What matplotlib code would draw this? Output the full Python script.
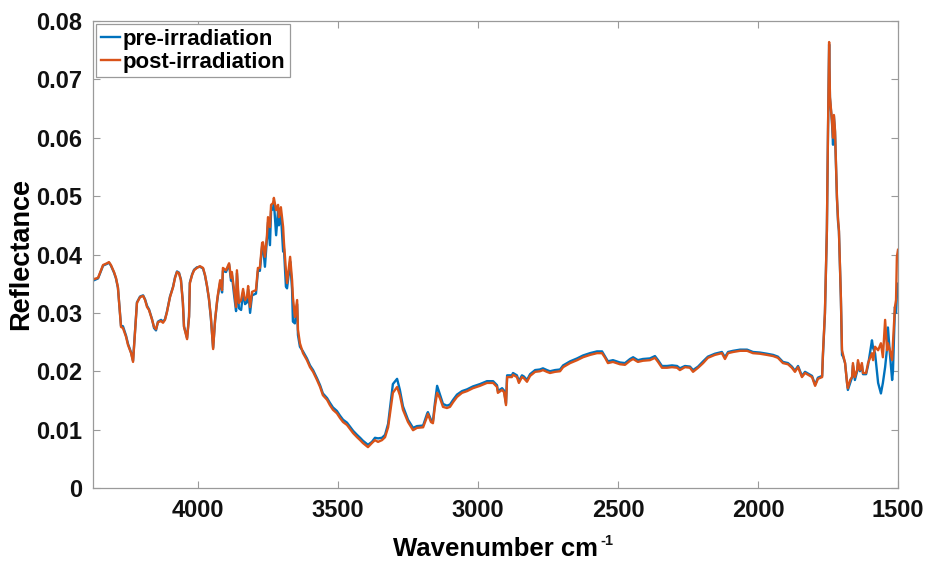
import numpy as np
import matplotlib
matplotlib.use("Agg")
import matplotlib.pyplot as plt

plt.rcParams['font.family'] = ['Liberation Sans', 'DejaVu Sans']
plt.rcParams['font.weight'] = 'bold'

# ---- data (wavenumber in cm^-1, reflectance) ----
wn_a = [4371, 4357, 4343, 4339, 4325, 4318, 4311, 4300, 4293, 4286, 4275, 4268, 4257, 4250, 4239,
        4232, 4225, 4218, 4207, 4196, 4189, 4182, 4175, 4164, 4157, 4150, 4143, 4132, 4125, 4118,
        4111, 4100, 4089, 4082, 4075, 4068, 4061, 4054, 4050, 4039, 4032, 4029, 4021, 4014, 4004]
post_a = [.0358, .0360, .0377, .0382, .0385, .0387, .0382, .0370, .0360, .0344, .0276, .0274, .0259, .0245, .0231,
          .0216, .0266, .0317, .0327, .0329, .0322, .0310, .0305, .0288, .0276, .0272, .0284, .0286, .0283, .0288,
          .0301, .0327, .0344, .0360, .0370, .0368, .0356, .0317, .0276, .0255, .0293, .0351, .0365, .0373, .0377]
pre_a = [.0356, .0359, .0376, .0381, .0384, .0386, .0381, .0369, .0359, .0343, .0278, .0277, .0261, .0247, .0232,
         .0218, .0268, .0318, .0328, .0330, .0323, .0312, .0306, .0289, .0274, .0270, .0285, .0288, .0285, .0289,
         .0302, .0328, .0345, .0361, .0371, .0369, .0357, .0318, .0277, .0257, .0294, .0352, .0366, .0374, .0378]

wn_b = [3993, 3982, 3975, 3968, 3961, 3954, 3946, 3939, 3932, 3929, 3921, 3914, 3911, 3900, 3889,
        3882, 3879, 3871, 3864, 3861, 3854, 3846, 3839, 3832, 3825, 3821, 3814, 3807, 3793, 3786,
        3779, 3771, 3768, 3761, 3754, 3750, 3743, 3739, 3732, 3729, 3721, 3714, 3711, 3704, 3696,
        3693, 3686, 3682, 3675, 3671, 3664, 3661, 3654, 3646, 3643, 3636]
post_b = [.0380, .0377, .0365, .0347, .0325, .0293, .0238, .0288, .0320, .0331, .0356, .0339, .0377, .0373, .0385,
          .0360, .0370, .0339, .0310, .0373, .0317, .0322, .0341, .0322, .0327, .0346, .0310, .0336, .0339, .0377,
          .0377, .0420, .0421, .0396, .0430, .0464, .0447, .0485, .0488, .0497, .0476, .0485, .0464, .0481, .0447,
          .0420, .0373, .0351, .0379, .0396, .0356, .0327, .0293, .0322, .0271, .0248]
pre_b = [.0379, .0376, .0364, .0346, .0324, .0291, .0240, .0287, .0318, .0329, .0352, .0335, .0372, .0370, .0383,
         .0355, .0365, .0330, .0303, .0368, .0308, .0305, .0335, .0315, .0318, .0340, .0300, .0330, .0333, .0372,
         .0372, .0414, .0416, .0379, .0425, .0455, .0416, .0475, .0478, .0490, .0433, .0476, .0450, .0470, .0405,
         .0410, .0345, .0342, .0370, .0388, .0340, .0285, .0282, .0315, .0262, .0242]

wn_c = [3625, 3611, 3600, 3589, 3575, 3564, 3554, 3539, 3529, 3518, 3504, 3493, 3482, 3468, 3457,
        3446, 3432, 3421, 3411, 3393, 3379, 3368, 3357, 3343, 3332, 3321, 3314, 3304, 3289, 3279,
        3268, 3250, 3232, 3218, 3196, 3182, 3179, 3168, 3161, 3154, 3146, 3136, 3125, 3111, 3100,
        3089, 3075, 3057, 3039, 3018, 2993, 2968, 2946, 2932, 2929, 2914, 2907, 2900, 2896, 2879,
        2875, 2861, 2854, 2843, 2836, 2825, 2814, 2796, 2779, 2768, 2754, 2743, 2725, 2707, 2696,
        2671, 2646, 2625, 2600, 2575, 2557]
post_c = [.0231, .0219, .0207, .0199, .0185, .0173, .0159, .0151, .0142, .0134, .0128, .0120, .0113, .0108, .0101,
          .0094, .0087, .0082, .0077, .0070, .0077, .0082, .0079, .0082, .0087, .0104, .0128, .0163, .0173, .0159,
          .0134, .0113, .0099, .0103, .0104, .0122, .0127, .0113, .0111, .0139, .0163, .0154, .0139, .0137, .0139,
          .0147, .0156, .0163, .0166, .0171, .0175, .0180, .0180, .0173, .0163, .0168, .0164, .0142, .0190, .0190,
          .0194, .0190, .0180, .0190, .0188, .0182, .0192, .0199, .0200, .0202, .0199, .0197, .0199, .0200, .0207,
          .0214, .0219, .0224, .0228, .0231, .0231]
pre_c = [.0234, .0222, .0210, .0202, .0188, .0176, .0162, .0154, .0146, .0138, .0132, .0124, .0117, .0112, .0105,
         .0098, .0091, .0086, .0081, .0074, .0079, .0086, .0085, .0086, .0091, .0110, .0138, .0178, .0187, .0168,
         .0140, .0117, .0103, .0106, .0107, .0127, .0130, .0117, .0114, .0145, .0175, .0160, .0144, .0141, .0143,
         .0151, .0160, .0166, .0169, .0174, .0178, .0183, .0183, .0176, .0166, .0171, .0167, .0145, .0193, .0193,
         .0197, .0193, .0183, .0193, .0191, .0185, .0195, .0202, .0203, .0205, .0202, .0200, .0202, .0203, .0210,
         .0217, .0222, .0227, .0231, .0234, .0234]

wn_d = [2546, 2536, 2518, 2493, 2475, 2457, 2446, 2429, 2411, 2386, 2368, 2357, 2343, 2325, 2307,
        2289, 2279, 2261, 2243, 2232, 2214, 2196, 2179, 2154, 2129, 2118, 2107, 2089, 2064, 2039,
        2018, 1993, 1968, 1946, 1929, 1911, 1893, 1879, 1868, 1857, 1843, 1832, 1821, 1807, 1796,
        1786, 1771]
post_d = [.0223, .0214, .0216, .0212, .0211, .0218, .0221, .0216, .0218, .0219, .0223, .0216, .0206, .0206, .0207,
          .0206, .0202, .0207, .0206, .0199, .0206, .0214, .0223, .0228, .0231, .0221, .0231, .0233, .0235, .0235,
          .0231, .0230, .0228, .0226, .0223, .0214, .0212, .0206, .0199, .0207, .0190, .0197, .0194, .0190, .0175,
          .0187, .0190]
pre_d = [.0225, .0217, .0219, .0215, .0214, .0221, .0224, .0219, .0221, .0222, .0226, .0219, .0209, .0209, .0210,
         .0209, .0205, .0209, .0208, .0202, .0208, .0217, .0225, .0230, .0233, .0224, .0233, .0235, .0237, .0237,
         .0233, .0232, .0230, .0228, .0225, .0216, .0214, .0208, .0201, .0209, .0192, .0199, .0196, .0192, .0177,
         .0189, .0192]

wn_e = [1768, 1761, 1754, 1750, 1746, 1743, 1736, 1732, 1729, 1725, 1718, 1714, 1711, 1704, 1700,
        1696, 1689, 1682, 1679, 1671, 1664, 1661, 1654, 1646, 1643, 1636, 1629, 1625, 1614, 1607,
        1593, 1589, 1582, 1571, 1561, 1554, 1546, 1539, 1536, 1529, 1521, 1518, 1511, 1507, 1504, 1500]
post_e = [.0231, .0300, .0442, .0613, .0764, .0670, .0630, .0600, .0639, .0613, .0498, .0459, .0442, .0327, .0236,
          .0228, .0214, .0180, .0171, .0185, .0190, .0214, .0190, .0202, .0219, .0202, .0214, .0197, .0197, .0214,
          .0231, .0219, .0242, .0236, .0248, .0224, .0288, .0236, .0248, .0236, .0219, .0248, .0310, .0322, .0396, .0408]
pre_e = [.0228, .0298, .0440, .0610, .0760, .0668, .0628, .0588, .0637, .0610, .0495, .0455, .0440, .0325, .0228,
         .0225, .0214, .0180, .0168, .0180, .0190, .0210, .0185, .0200, .0215, .0200, .0210, .0195, .0195, .0210,
         .0253, .0240, .0231, .0180, .0162, .0180, .0207, .0240, .0275, .0230, .0185, .0200, .0310, .0300, .0330, .0350]

wavenumber = np.concatenate([wn_a, wn_b, wn_c, wn_d, wn_e])
pre = np.concatenate([pre_a, pre_b, pre_c, pre_d, pre_e])
post = np.concatenate([post_a, post_b, post_c, post_d, post_e])

x_ticks = [4000, 3500, 3000, 2500, 2000, 1500]
y_ticks = [0, 0.01, 0.02, 0.03, 0.04, 0.05, 0.06, 0.07, 0.08]
y_tick_labels = ['0', '0.01', '0.02', '0.03', '0.04', '0.05', '0.06', '0.07', '0.08']
series_labels = ['pre-irradiation', 'post-irradiation']

# ---- figure ----
fig = plt.figure(figsize=(9.28, 5.61), dpi=100)
ax = fig.add_axes([93 / 928, 1 - 488 / 561, (898 - 93) / 928, (488 - 21) / 561])

ax.plot(wavenumber, pre, color='#0072BD', lw=1.7, label=series_labels[0])
ax.plot(wavenumber, post, color='#D95319', lw=1.7, label=series_labels[1])

ax.set_xlim(4375, 1500)
ax.set_ylim(0, 0.08)
ax.set_xticks(x_ticks)
ax.set_yticks(y_ticks)
ax.set_yticklabels(y_tick_labels)

axis_gray = '#9a9a9a'
for s in ax.spines.values():
    s.set_color(axis_gray)
    s.set_linewidth(0.9)
ax.tick_params(direction='in', length=5, width=0.8, color=axis_gray,
               top=True, right=True, labelsize=17, labelcolor='#111111', pad=8)
for lab in ax.get_xticklabels() + ax.get_yticklabels():
    lab.set_fontweight('bold')

xl = ax.set_xlabel('Wavenumber cm', fontsize=18.5, fontweight='bold', labelpad=11)
ax.annotate('-1', xy=(1, 0), xycoords=xl, xytext=(1.5, 11.8), textcoords='offset points',
            ha='left', va='baseline', fontsize=10.5, fontweight='bold', color='#111111')
ax.set_ylabel('Reflectance', fontsize=19.5, fontweight='bold', labelpad=1)

leg = ax.legend(loc='upper left', bbox_to_anchor=(0.0, 1.0), borderaxespad=0.15,
                fancybox=False, framealpha=1, edgecolor=axis_gray,
                prop={'size': 16, 'weight': 'bold'}, handlelength=0.85,
                handletextpad=0.15, borderpad=0.2, labelspacing=0.1)
leg.get_frame().set_linewidth(0.9)

fig.savefig('out.png', dpi=100)
